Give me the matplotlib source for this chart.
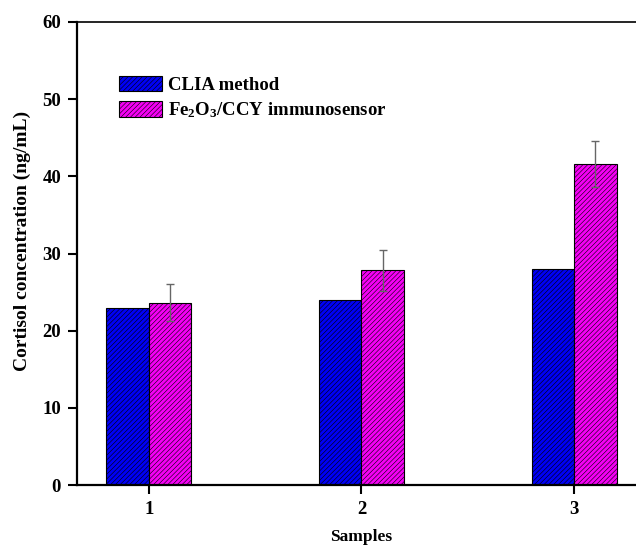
import matplotlib
matplotlib.use("Agg")
import matplotlib.pyplot as plt
import numpy as np

samples = [1, 2, 3]
sample_labels = ["1", "2", "3"]
clia = [23.0, 24.0, 28.0]
sensor = [23.6, 27.8, 41.6]
sensor_err = [2.4, 2.7, 3.0]
series_names = ["CLIA method", "Fe$_2$O$_3$/CCY immunosensor"]
y_ticks = [0, 10, 20, 30, 40, 50, 60]

plt.rcParams['font.family'] = 'Liberation Serif'
plt.rcParams['font.weight'] = 'bold'
plt.rcParams['mathtext.fontset'] = 'custom'
plt.rcParams['mathtext.rm'] = 'Liberation Serif:bold'
plt.rcParams['mathtext.it'] = 'Liberation Serif:bold'
plt.rcParams['mathtext.bf'] = 'Liberation Serif:bold'
plt.rcParams['hatch.linewidth'] = 0.4

W, H = 636, 548
fig = plt.figure(figsize=(W / 100, H / 100), dpi=100)
left, right, top, bottom = 77, 646, 22, 485
ax = fig.add_axes([left / W, 1 - bottom / H, (right - left) / W, (bottom - top) / H])

x = np.array(samples, dtype=float)
bw = 0.2
hatch = '///////'
ax.bar(x - bw / 2, clia, bw, color='#0000F5', edgecolor='black', linewidth=0.8,
       hatch=hatch, label=series_names[0])
ax.bar(x + bw / 2, sensor, bw, color='#F500F5', edgecolor='black', linewidth=0.8,
       hatch=hatch, label=series_names[1])
ax.errorbar(x + bw / 2, sensor, yerr=sensor_err, fmt='none', ecolor='#666666',
            elinewidth=1.0, capsize=3.2, capthick=1.0)

ax.set_xlim(0.662, 3.338)
ax.set_ylim(0, 60)
ax.set_xticks(samples)
ax.set_xticklabels(sample_labels)
ax.set_yticks(y_ticks)
ax.tick_params(axis='both', direction='out', length=6.5, width=1.5, labelsize=13.5, pad=5)
for s in ['left', 'bottom']:
    ax.spines[s].set_linewidth(1.6)
ax.spines['top'].set_linewidth(1.2)
ax.spines['right'].set_visible(False)

ax.set_xlabel('Samples', fontsize=12.5, fontweight='bold', labelpad=8)
ax.set_ylabel('Cortisol concentration (ng/mL)', fontsize=14, fontweight='bold')
ax.yaxis.set_label_coords(-0.081, 0.528)

ax.legend(loc='upper left', bbox_to_anchor=(0.074, 0.884), frameon=False,
          fontsize=13.5, borderaxespad=0, borderpad=0, handlelength=2.3,
          handleheight=0.9, handletextpad=0.3, labelspacing=0.35)

fig.savefig('out.png', dpi=100)
